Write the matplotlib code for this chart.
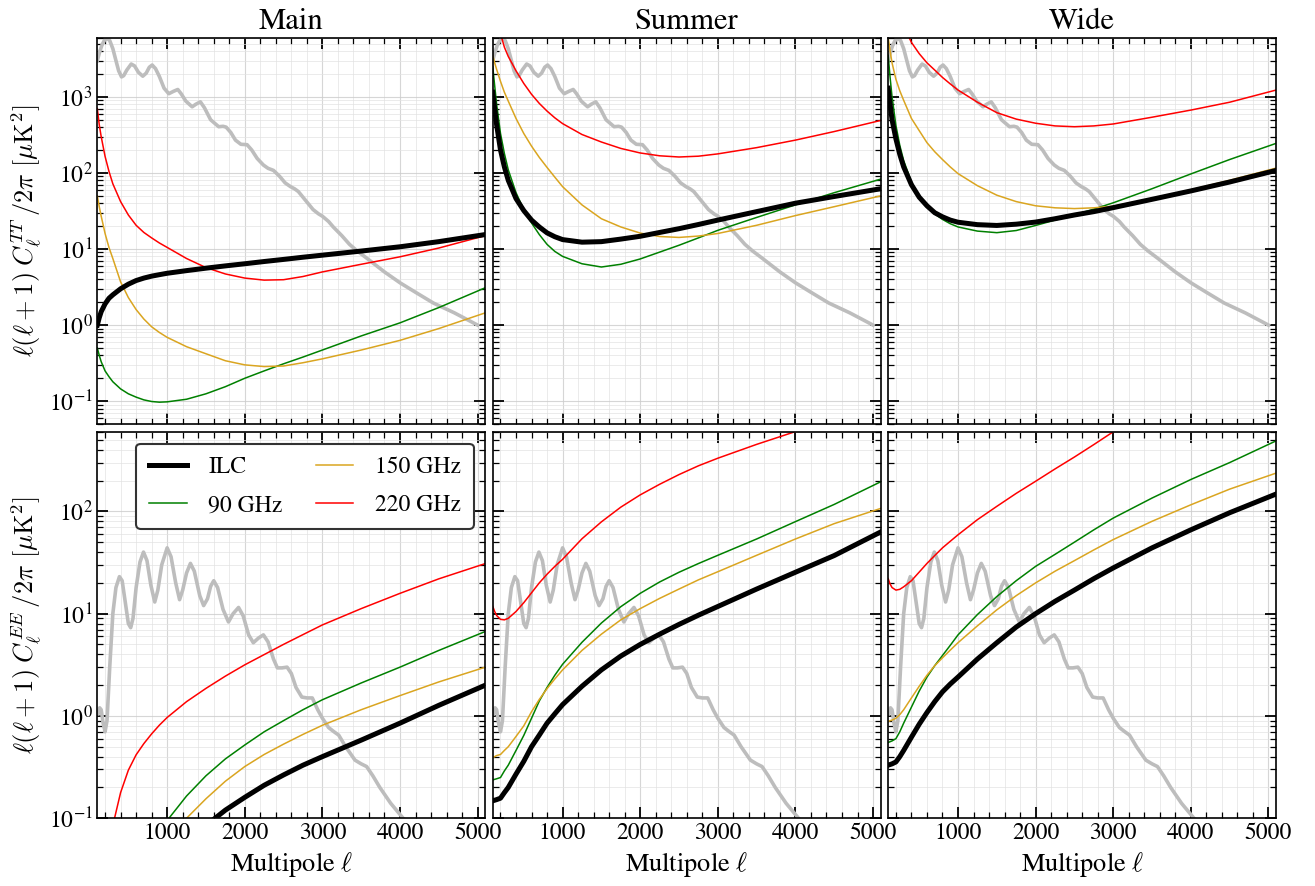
import numpy as np
import matplotlib
matplotlib.use("Agg")
import matplotlib.pyplot as plt
from matplotlib.ticker import MultipleLocator, LogLocator, NullFormatter

plt.rcParams["font.family"] = ["STIXGeneral", "Liberation Serif", "DejaVu Serif"]
plt.rcParams["mathtext.fontset"] = "cm"
plt.rcParams["mathtext.rm"] = "STIXGeneral"

nan = np.nan

# multipole grid used for the noise curves
ell = [100, 125, 150, 200, 250, 300, 400, 500, 600, 700, 800, 900, 1000,
       1250, 1500, 1750, 2000, 2250, 2500, 2750, 3000, 3500, 4000, 4500, 5100]

# ---- temperature noise, D_ell [uK^2] ----
main_tt_ilc = [1.0, 1.25, 1.5, 1.9, 2.25, 2.5, 3.0, 3.45, 3.85, 4.15, 4.4, 4.6, 4.8,
               5.2, 5.6, 6.0, 6.4, 6.85, 7.3, 7.8, 8.3, 9.4, 10.7, 12.5, 15.5]
main_tt_90 = [0.5, 0.4, 0.33, 0.25, 0.21, 0.18, 0.145, 0.125, 0.113, 0.104, 0.099, 0.097, 0.098,
              0.106, 0.125, 0.155, 0.2, 0.25, 0.31, 0.38, 0.47, 0.72, 1.07, 1.7, 3.1]
main_tt_150 = [50, 36, 27, 16, 10.5, 7.5, 3.7, 2.3, 1.6, 1.2, 0.95, 0.8, 0.69,
               0.52, 0.42, 0.34, 0.3, 0.285, 0.29, 0.32, 0.36, 0.47, 0.63, 0.9, 1.45]
main_tt_220 = [700, 430, 300, 165, 105, 72, 42, 28, 20.5, 16.5, 14, 12, 10.5,
               7.5, 5.7, 4.7, 4.15, 3.9, 3.95, 4.35, 5.0, 6.3, 7.9, 10.3, 15]

summer_tt_ilc = [1150, 700, 430, 200, 120, 80, 46, 32, 24, 19.5, 16.3, 14.5, 13.3,
                 12.3, 12.5, 13.5, 14.7, 16.5, 18.5, 21, 24, 31, 40, 49, 62]
summer_tt_90 = [2500, 1400, 800, 330, 180, 110, 55, 33, 22, 15.5, 11.5, 9.3, 8.0,
                6.4, 5.8, 6.3, 7.4, 9.1, 11.2, 14, 17.6, 26, 38, 55, 83]
summer_tt_150 = [3500, 2800, 2300, 1600, 1150, 880, 520, 330, 225, 160, 118, 88, 66,
                 38, 25, 19.5, 16.2, 14.6, 14.2, 14.8, 16, 20.5, 27.5, 36, 50]
summer_tt_220 = [nan, nan, nan, 6800, 4500, 3400, 2200, 1500, 1080, 820, 650, 530, 445,
                 320, 255, 210, 183, 168, 162, 166, 178, 215, 270, 350, 490]

wide_tt_ilc = [1300, 800, 500, 280, 175, 120, 70, 48, 37, 30, 26.5, 24, 22.5,
               20.9, 20.4, 21.2, 22.6, 25, 28, 31, 35, 45, 58, 76, 108]
wide_tt_90 = [3500, 1800, 1000, 420, 230, 145, 76, 49, 36, 29, 24.5, 21.5, 19.5,
              17.2, 16.4, 17.5, 20.4, 24, 28, 33.5, 40.5, 62, 97, 150, 245]
wide_tt_150 = [6000, 4000, 2800, 1700, 1200, 900, 520, 360, 250, 190, 150, 120, 98,
               68, 51, 42, 37, 34.8, 34, 34.8, 36.5, 46, 60, 80, 116]
wide_tt_220 = [nan, nan, nan, nan, nan, 8500, 5200, 3700, 2800, 2250, 1800, 1480, 1230,
               850, 620, 510, 450, 415, 405, 415, 440, 540, 670, 850, 1230]

# ---- polarisation noise, D_ell [uK^2] ----
main_ee_ilc = [nan, nan, nan, nan, nan, nan, nan, nan, nan, nan, nan, nan, nan,
               0.05, 0.085, 0.12, 0.16, 0.21, 0.265, 0.33, 0.4, 0.58, 0.85, 1.27, 2.0]
main_ee_90 = [nan, nan, nan, nan, nan, nan, nan, nan, nan, nan, 0.052, 0.072, 0.095,
              0.165, 0.26, 0.38, 0.52, 0.7, 0.9, 1.15, 1.44, 2.1, 3.0, 4.37, 6.7]
main_ee_150 = [nan, nan, nan, nan, nan, nan, nan, nan, nan, nan, nan, 0.045, 0.06,
               0.1, 0.155, 0.23, 0.32, 0.42, 0.53, 0.66, 0.81, 1.15, 1.58, 2.15, 3.0]
main_ee_220 = [nan, nan, nan, nan, 0.04, 0.085, 0.178, 0.295, 0.417, 0.537, 0.668, 0.813, 0.966,
               1.38, 1.86, 2.45, 3.16, 3.98, 5.01, 6.24, 7.76, 11.2, 15.8, 21.9, 30.9]

summer_ee_ilc = [0.148, 0.15, 0.152, 0.157, 0.178, 0.2, 0.27, 0.36, 0.5, 0.65, 0.85, 1.05, 1.29,
                 1.95, 2.82, 3.85, 5.0, 6.3, 7.85, 9.66, 11.75, 17.4, 25.4, 37, 63]
summer_ee_90 = [0.237, 0.24, 0.243, 0.25, 0.29, 0.33, 0.46, 0.645, 0.95, 1.4, 1.9, 2.5, 3.2,
                5.25, 8.1, 11.7, 15.8, 20.4, 25.4, 30.9, 37.2, 53.7, 79.4, 117, 195]
summer_ee_150 = [0.39, 0.40, 0.41, 0.42, 0.46, 0.5, 0.63, 0.8, 1.1, 1.45, 1.85, 2.3, 2.82,
                 4.37, 6.3, 8.7, 11.2, 14.1, 17.4, 21.4, 25.7, 37.2, 53.7, 75.9, 107]
summer_ee_220 = [11.8, 10.5, 9.6, 8.8, 8.7, 9.0, 10.5, 12.8, 16, 20, 24.3, 29, 34,
                 54, 79, 110, 145, 184, 229, 279, 331, 452, 603, nan, nan]

wide_ee_ilc = [0.33, 0.335, 0.34, 0.355, 0.4, 0.46, 0.62, 0.83, 1.08, 1.38, 1.72, 2.05, 2.4,
               3.6, 5.2, 7.4, 10, 13.2, 17, 22, 28, 44, 66, 97, 148]
wide_ee_90 = [0.55, 0.56, 0.57, 0.6, 0.7, 0.85, 1.22, 1.75, 2.4, 3.1, 3.9, 4.9, 6.2,
              9.8, 14.7, 21, 29, 38, 50, 66, 86, 135, 205, 300, 490]
wide_ee_150 = [0.88, 0.9, 0.91, 0.95, 1.03, 1.15, 1.5, 1.95, 2.5, 3.1, 3.7, 4.4, 5.2,
               7.6, 10.9, 15, 20, 26, 33, 42, 53, 80, 116, 165, 237]
wide_ee_220 = [22, 19.5, 18, 17, 17.3, 18.3, 21, 25.5, 31, 37, 44, 51, 59,
               83, 112, 150, 197, 260, 340, 450, 600, nan, nan, nan, nan]

# ---- fiducial CMB spectra (grey) ----
cmb_tt_ell = [100, 130, 160, 190, 225, 260, 300, 340, 375, 412, 440, 480, 537,
              580, 630, 686, 730, 770, 807, 850, 900, 960, 1021, 1080, 1137,
              1180, 1240, 1322, 1370, 1428, 1480, 1560, 1664, 1720, 1760, 1820,
              1880, 1950, 2030, 2090, 2160, 2240, 2300, 2370, 2450, 2520, 2590,
              2640, 2690, 2780, 2880, 2950, 3000, 3080, 3140, 3250, 3350, 3450,
              3570, 3800, 4000, 4200, 4430, 4700, 5000]
cmb_tt = [3000, 3900, 4800, 5500, 5900, 5500, 4300, 3000, 2200, 1830, 1900,
          2250, 2700, 2550, 2100, 1870, 2050, 2450, 2620, 2350, 1850, 1300,
          1100, 1180, 1250, 1100, 880, 740, 800, 860, 720, 500, 405, 410, 400,
          340, 270, 238, 235, 200, 155, 127, 115, 108, 90, 74, 66, 62, 57, 44,
          33, 29, 27, 23, 19.5, 15, 11.5, 9.4, 7.6, 5.0, 3.6, 2.7, 1.95, 1.45,
          1.0]

cmb_ee_ell = [110, 130, 150, 175, 200, 225, 260, 300, 340, 385, 420, 460, 500,
              530, 560, 600, 650, 695, 740, 790, 840, 880, 930, 1000, 1050,
              1110, 1160, 1200, 1250, 1300, 1350, 1420, 1470, 1520, 1560, 1600,
              1650, 1720, 1790, 1850, 1920, 1980, 2050, 2110, 2180, 2240, 2300,
              2370, 2420, 2480, 2545, 2600, 2660, 2735, 2800, 2870, 2940, 3000,
              3080, 3150, 3210, 3300, 3420, 3500, 3570, 3650, 3740, 3880, 4040,
              4300, 4600, 5000]
cmb_ee = [1.05, 1.2, 1.15, 0.85, 0.7, 0.9, 3.0, 10, 18, 23, 21, 13, 8, 7.3, 9,
          18, 32, 40, 33, 19, 13, 17, 30, 44, 36, 20, 13.7, 17, 25, 31, 26, 15,
          12, 14, 18.5, 21, 18, 11, 8.3, 10, 11.5, 9.5, 6.2, 5.2, 5.8, 6.2, 5.3,
          3.6, 2.95, 2.95, 3.0, 2.6, 1.9, 1.53, 1.5, 1.5, 1.15, 0.95, 0.77, 0.7,
          0.65, 0.5, 0.37, 0.34, 0.32, 0.26, 0.2, 0.14, 0.1, 0.065, 0.04, 0.022]

titles = ["Main", "Summer", "Wide"]
tt_sets = [
    (main_tt_ilc, main_tt_90, main_tt_150, main_tt_220),
    (summer_tt_ilc, summer_tt_90, summer_tt_150, summer_tt_220),
    (wide_tt_ilc, wide_tt_90, wide_tt_150, wide_tt_220),
]
ee_sets = [
    (main_ee_ilc, main_ee_90, main_ee_150, main_ee_220),
    (summer_ee_ilc, summer_ee_90, summer_ee_150, summer_ee_220),
    (wide_ee_ilc, wide_ee_90, wide_ee_150, wide_ee_220),
]
labels = ["ILC", "90 GHz", "150 GHz", "220 GHz"]
colors = ["black", "green", "goldenrod", "red"]
widths = [3.6, 1.1, 1.1, 1.1]

fig, axes = plt.subplots(2, 3, figsize=(13.15, 8.86), dpi=100,
                         sharex=True, sharey="row")
fig.subplots_adjust(left=0.074, right=0.9705, top=0.9575, bottom=0.0765,
                    wspace=0.019, hspace=0.02)

for row, (cmb_l, cmb_d, sets, ylim) in enumerate([
        (cmb_tt_ell, cmb_tt, tt_sets, (0.05, 6000)),
        (cmb_ee_ell, cmb_ee, ee_sets, (0.1, 600))]):
    for col in range(3):
        ax = axes[row, col]
        ax.plot(cmb_l, cmb_d, color="#bdbdbd", lw=2.6,
                solid_joinstyle="round", zorder=1)
        curves = sets[col]
        for k in [1, 2, 3, 0]:
            ax.plot(ell, curves[k], color=colors[k], lw=widths[k],
                    label=labels[k], solid_joinstyle="round",
                    zorder=3 if k == 0 else 2)
        ax.set_yscale("log")
        ax.set_xlim(100, 5100)
        ax.set_ylim(*ylim)
        ax.xaxis.set_major_locator(MultipleLocator(1000))
        ax.xaxis.set_minor_locator(MultipleLocator(200))
        ax.yaxis.set_major_locator(LogLocator(base=10, numticks=20))
        ax.yaxis.set_minor_locator(LogLocator(base=10, subs=np.arange(2, 10),
                                              numticks=20))
        ax.yaxis.set_minor_formatter(NullFormatter())
        ax.grid(which="major", color="#cccccc", lw=0.8, alpha=0.8)
        ax.grid(which="minor", color="#e2e2e2", lw=0.6, alpha=0.8)
        ax.set_axisbelow(True)
        ax.tick_params(which="both", direction="in", top=True, right=True,
                       labelsize=17)
        ax.tick_params(which="major", length=8, width=1.3)
        ax.tick_params(which="minor", length=4, width=0.9)
        for sp in ax.spines.values():
            sp.set_linewidth(1.2)
        if row == 0:
            ax.set_title(titles[col], fontsize=22, pad=6)
        else:
            ax.set_xlabel(r"Multipole $\ell$", fontsize=19)

axes[0, 0].set_ylabel(r"$\ell(\ell+1)\;C_\ell^{TT}\,/2\pi\ [\mu\mathrm{K}^2]$",
                      fontsize=19)
axes[1, 0].set_ylabel(r"$\ell(\ell+1)\;C_\ell^{EE}\,/2\pi\ [\mu\mathrm{K}^2]$",
                      fontsize=19)

handles, labs = axes[1, 0].get_legend_handles_labels()
order = [labs.index(l) for l in labels]
leg = axes[1, 0].legend([handles[i] for i in order], [labs[i] for i in order],
                        ncol=2, loc="upper right", fontsize=17, fancybox=True,
                        framealpha=1, edgecolor="#333333", handlelength=1.6,
                        columnspacing=1.4, labelspacing=0.7, borderpad=0.55,
                        handletextpad=0.9)
leg.get_frame().set_linewidth(1.5)

fig.savefig("out.png", dpi=100)
